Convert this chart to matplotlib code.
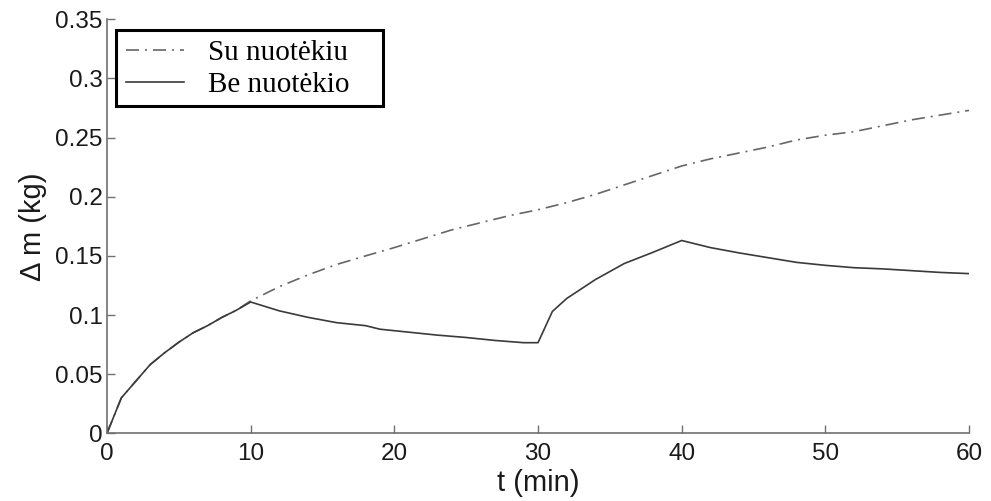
import numpy as np
import matplotlib
matplotlib.use("Agg")
import matplotlib.pyplot as plt
from matplotlib.patches import Rectangle

# data
t_leak = [0, 1, 2, 3, 4, 5, 6, 7, 8, 9, 10, 12, 14, 16, 18, 20, 22, 24, 26, 28,
          30, 32, 34, 36, 38, 40, 42, 44, 46, 48, 50, 52, 54, 56, 58, 60]
m_leak = [0, 0.030, 0.044, 0.058, 0.068, 0.077, 0.085, 0.091, 0.098, 0.104, 0.112,
          0.124, 0.134, 0.1428, 0.150, 0.157, 0.1645, 0.172, 0.178, 0.184,
          0.189, 0.195, 0.202, 0.210, 0.218, 0.226, 0.232, 0.237, 0.242, 0.248,
          0.252, 0.255, 0.260, 0.265, 0.269, 0.273]

t_noleak = [0, 1, 2, 3, 4, 5, 6, 7, 8, 9, 10, 12, 14, 16, 18, 19, 21, 23, 25, 27,
            29, 30, 31, 32, 34, 36, 38, 40, 42, 44, 46, 48, 50, 52, 54, 56, 58, 60]
m_noleak = [0, 0.030, 0.044, 0.058, 0.068, 0.077, 0.085, 0.091, 0.098, 0.104, 0.111,
            0.1035, 0.098, 0.0935, 0.091, 0.088, 0.0855, 0.083, 0.081, 0.0785,
            0.0766, 0.0766, 0.103, 0.114, 0.130, 0.1435, 0.153, 0.163, 0.157,
            0.1525, 0.1485, 0.1445, 0.142, 0.140, 0.139, 0.1375, 0.136, 0.135]

labels = ["Su nuotėkiu", "Be nuotėkio"]
xticks = [0, 10, 20, 30, 40, 50, 60]
yticks = [0, 0.05, 0.1, 0.15, 0.2, 0.25, 0.3, 0.35]
ytick_labels = ["0", "0.05", "0.1", "0.15", "0.2", "0.25", "0.3", "0.35"]

plt.rcParams["font.family"] = ["Liberation Sans", "DejaVu Sans"]
plt.rcParams["lines.scale_dashes"] = False

fig = plt.figure(figsize=(9.91, 5.01), dpi=100)
ax = fig.add_axes([107 / 991, 1 - 433.3 / 501, (969 - 107) / 991, (433.3 - 19.3) / 501])

# dash-dot curve (with leak) and solid curve (without leak)
l1, = ax.plot(t_leak, m_leak, color="#666666", lw=1.2, dashes=(9.4, 4.3, 1.4, 4.3))
l2, = ax.plot(t_noleak, m_noleak, color="#3a3a3a", lw=1.2)

ax.set_xlim(0, 60)
ax.set_ylim(0, 0.35)
ax.set_xticks(xticks)
ax.set_yticks(yticks)
ax.set_yticklabels(ytick_labels)

for side in ["top", "right"]:
    ax.spines[side].set_visible(False)
for side in ["left", "bottom"]:
    ax.spines[side].set_color("#707070")
    ax.spines[side].set_linewidth(1.2)

ax.tick_params(direction="in", length=5.8, width=1.0, color="#707070",
               labelsize=17.5, labelcolor="#1a1a1a", pad=3)
ax.tick_params(axis="x", pad=7)

ax.set_xlabel("t (min)", fontsize=21, color="#1a1a1a", labelpad=3)
ax.set_ylabel("Δ m (kg)", fontsize=21, color="#1a1a1a", labelpad=6)

# legend: serif text in a thick black box
leg = fig.legend([l1, l2], labels, loc="upper left",
                 bbox_to_anchor=(126 / 991, 1 - 40 / 501),
                 prop={"family": "Liberation Serif", "size": 21},
                 frameon=False, handlelength=2.0, handletextpad=0.8,
                 labelspacing=0.19, borderpad=0.0, borderaxespad=0.0)
fig.patches.append(Rectangle((116 / 991, 1 - 106 / 501), (383 - 116) / 991,
                             (106 - 30) / 501, transform=fig.transFigure,
                             facecolor="white", edgecolor="black", lw=2.2,
                             zorder=2))
leg.set_zorder(3)

fig.savefig("out.png", dpi=100)
